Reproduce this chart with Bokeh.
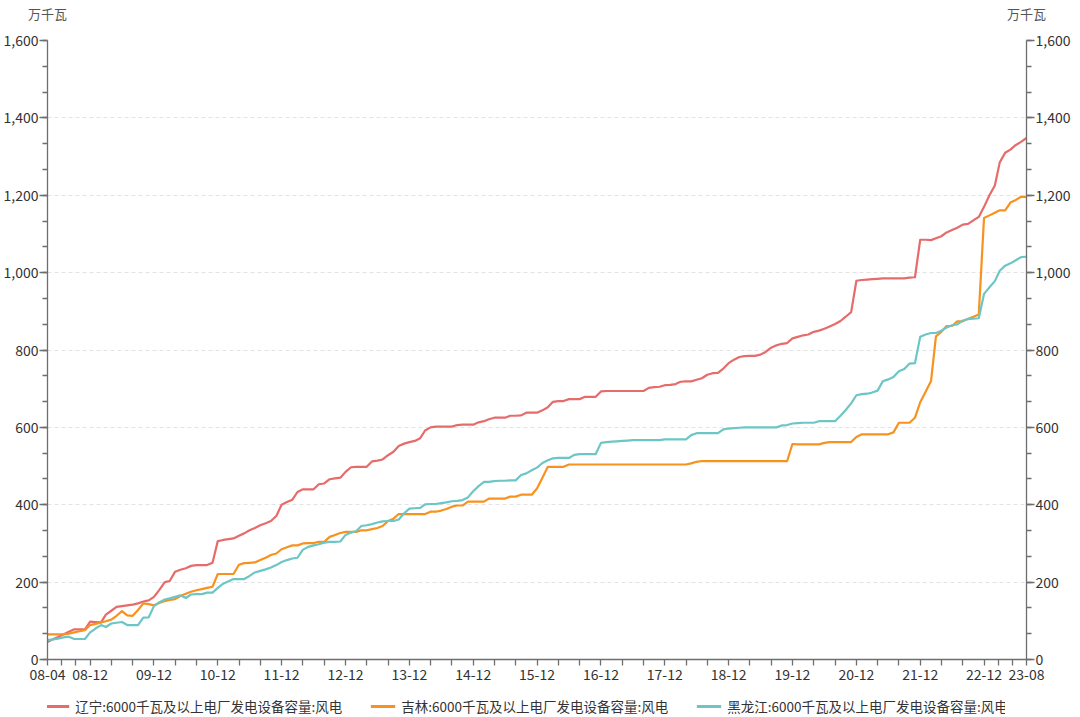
import pandas as pd
from bokeh.plotting import figure
from bokeh.layouts import column
from bokeh.models import (FixedTicker, SingleIntervalTicker, LinearAxis, DatetimeTickFormatter,
                          NumeralTickFormatter, Legend, LegendItem, Range1d, ColumnDataSource)
from bokeh.embed import file_html
from bokeh.resources import INLINE

# ---------------- data (monthly, 2008-04 .. 2023-08) ----------------
start_month = "2008-04"
n_months = 185

liaoning = [
    45, 52, 58, 65, 72, 78, 78, 78, 98,                                   # 2008 Apr-Dec
    97, 96, 116, 126, 136, 138, 140, 142, 145, 150, 153, 162,            # 2009
    180, 200, 203, 227, 232, 236, 242, 244, 244, 244, 250, 306,          # 2010
    309, 311, 313, 320, 326, 334, 340, 347, 352, 358, 371, 400,          # 2011
    407, 413, 433, 440, 440, 440, 453, 455, 466, 468, 470, 485,          # 2012
    497, 498, 498, 498, 512, 514, 517, 528, 537, 552, 558, 562,          # 2013
    565, 572, 592, 600, 602, 602, 602, 602, 606, 607, 607, 607,          # 2014
    613, 616, 621, 625, 625, 625, 630, 630, 631, 638, 638, 638,          # 2015
    644, 652, 666, 668, 668, 673, 673, 673, 679, 679, 679, 693,          # 2016
    694, 694, 694, 694, 694, 694, 694, 694, 702, 704, 705, 709,          # 2017
    710, 712, 718, 719, 719, 723, 727, 736, 740, 741, 752, 766,          # 2018
    775, 782, 784, 785, 785, 788, 795, 806, 812, 816, 818, 830,          # 2019
    834, 838, 840, 847, 850, 855, 861, 867, 875, 886, 898, 979,          # 2020
    981, 982, 983, 984, 985, 985, 985, 985, 985, 987, 988, 1085,         # 2021
    1085, 1084, 1089, 1094, 1104, 1110, 1116, 1124, 1126, 1135, 1144, 1170,  # 2022
    1200, 1225, 1285, 1310, 1318, 1330, 1338, 1348,                      # 2023 Jan-Aug
]

jilin = [
    65, 65, 65, 65, 67, 70, 73, 76, 89,
    92, 96, 99, 103, 113, 125, 114, 113, 128, 145, 143, 140,
    146, 151, 154, 156, 164, 170, 175, 179, 182, 185, 188, 221,
    221, 221, 221, 245, 249, 250, 251, 257, 263, 270, 274, 285,
    290, 295, 295, 300, 301, 301, 304, 304, 317, 322, 327, 330,
    330, 330, 334, 334, 337, 340, 345, 358, 364, 376, 376, 376,
    376, 376, 376, 382, 382, 385, 389, 395, 398, 398, 408, 408,
    408, 408, 416, 416, 416, 416, 421, 421, 426, 426, 426, 442,
    470, 498, 498, 498, 498, 504, 504, 504, 504, 504, 504, 504,
    504, 504, 504, 504, 504, 504, 504, 504, 504, 504, 504, 504,
    504, 504, 504, 504, 507, 511, 513, 513, 513, 513, 513, 513,
    513, 513, 513, 513, 513, 513, 513, 513, 513, 513, 513, 557,
    556, 556, 556, 556, 556, 560, 562, 562, 562, 562, 562, 575,
    582, 582, 582, 582, 582, 582, 587, 612, 612, 612, 625, 665,
    692, 720, 835, 847, 862, 862, 874, 874, 881, 886, 892, 1141,
    1148, 1155, 1161, 1161, 1181, 1188, 1196, 1196,
]

heilongjiang = [
    50, 52, 54, 57, 59, 53, 53, 53, 70,
    80, 89, 84, 93, 95, 97, 89, 89, 89, 108, 109, 138,
    148, 155, 158, 162, 166, 159, 168, 169, 169, 173, 173, 185,
    196, 202, 208, 208, 208, 216, 225, 229, 233, 238, 244, 252,
    257, 261, 263, 284, 291, 295, 298, 302, 304, 304, 305, 322,
    328, 332, 345, 347, 350, 354, 357, 358, 358, 362, 378, 390,
    391, 392, 401, 402, 402, 404, 406, 409, 410, 412, 419, 435,
    448, 459, 459, 461, 462, 462, 463, 463, 477, 481, 489, 496,
    508, 515, 520, 521, 521, 521, 529, 531, 531, 531, 531, 560,
    562, 563, 564, 565, 566, 567, 567, 567, 567, 567, 567, 569,
    569, 569, 569, 569, 580, 585, 585, 585, 585, 585, 595, 597,
    598, 599, 600, 600, 600, 600, 600, 600, 600, 605, 606, 610,
    611, 612, 612, 612, 616, 616, 616, 616, 630, 645, 662, 683,
    686, 687, 690, 695, 719, 724, 730, 745, 751, 765, 766, 834,
    840, 844, 844, 850, 858, 864, 866, 876, 880, 881, 882, 945,
    962, 978, 1005, 1018, 1024, 1032, 1040, 1041,
]

series_names = [
    "辽宁:6000千瓦及以上电厂发电设备容量:风电",
    "吉林:6000千瓦及以上电厂发电设备容量:风电",
    "黑龙江:6000千瓦及以上电厂发电设备容量:风电",
]
series_colors = ["#e66b6b", "#f8921f", "#6cc6c6"]
unit_label = "万千瓦"

x_tick_months = ["2008-04", "2008-12", "2009-12", "2010-12", "2011-12", "2012-12", "2013-12",
                 "2014-12", "2015-12", "2016-12", "2017-12", "2018-12", "2019-12", "2020-12",
                 "2021-12", "2022-12", "2023-08"]
y_max = 1600
y_step = 200

# ---------------- build ----------------
FONT = "Noto Sans CJK SC"
TEXT = "#333333"
AXIS = "#6e6e6e"
LINE_W = 2.2

dates = pd.date_range(start=start_month, periods=n_months, freq="MS")
src = ColumnDataSource(dict(date=dates, ln=liaoning, jl=jilin, hlj=heilongjiang))


def ms(s):
    return float(pd.Timestamp(s).value / 1e6)


x0, x1 = ms(dates[0]), ms(dates[-1])

p = figure(frame_width=979, frame_height=619, x_axis_type="datetime", output_backend="svg",
           toolbar_location=None, x_range=Range1d(x0, x1), y_range=Range1d(0, y_max),
           min_border_left=41, min_border_right=40, min_border_top=34, min_border_bottom=0)
p.outline_line_color = None
p.background_fill_color = "white"
p.border_fill_color = "white"

cols = ["ln", "jl", "hlj"]
for col, color in zip(cols, series_colors):
    p.line("date", col, source=src, line_color=color, line_width=LINE_W, line_join="round")


def style_axis(ax, size="14px"):
    ax.axis_label = None
    ax.axis_line_color = AXIS
    ax.major_tick_line_color = AXIS
    ax.minor_tick_line_color = AXIS
    ax.axis_line_width = 1.3
    ax.major_tick_line_width = 1.3
    ax.minor_tick_line_width = 1.3
    ax.major_label_text_font = FONT
    ax.major_label_text_font_size = size
    ax.major_label_text_color = TEXT


# x ticks
major = [ms(m) for m in x_tick_months]
minor = []
for a, b in zip(major[:-1], major[1:]):
    for k in (1, 2):
        minor.append(a + (b - a) * k / 3)
xax = p.xaxis[0]
xax.ticker = FixedTicker(ticks=major, minor_ticks=minor)
fmt = "%y-%m"
xax.formatter = DatetimeTickFormatter(years=fmt, months=fmt, days=fmt, hours=fmt, minutes=fmt,
                                      seconds=fmt, milliseconds=fmt, microseconds=fmt, hourmin=fmt,
                                      minsec=fmt)
xax.major_tick_out = 6
xax.major_tick_in = 0
xax.minor_tick_out = 6
xax.minor_tick_in = 0
xax.major_label_standoff = 3
style_axis(xax)

# y axes (left and right)
yax = p.yaxis[0]
yax.ticker = SingleIntervalTicker(interval=y_step, num_minor_ticks=3)
yax.formatter = NumeralTickFormatter(format="0,0")
yax.major_tick_out = 8
yax.major_tick_in = 0
yax.minor_tick_out = 5
yax.minor_tick_in = 0
yax.major_label_standoff = 1
style_axis(yax)

ry = LinearAxis(ticker=SingleIntervalTicker(interval=y_step, num_minor_ticks=3),
                formatter=NumeralTickFormatter(format="0,0"))
ry.major_tick_out = 8
ry.major_tick_in = 0
ry.minor_tick_out = 5
ry.minor_tick_in = 0
ry.major_label_standoff = 1
style_axis(ry)
p.add_layout(ry, "right")

# unit names above both y axes (an invisible axis carrying two labels)
ua = LinearAxis(ticker=FixedTicker(ticks=[x0, x1], minor_ticks=[]),
                major_label_overrides={x0: unit_label, x1: unit_label})
ua.axis_label = None
ua.axis_line_color = None
ua.major_tick_line_color = None
ua.minor_tick_line_color = None
ua.major_label_standoff = 12
ua.major_label_text_font = FONT
ua.major_label_text_font_size = "13px"
ua.major_label_text_color = "#555555"
p.add_layout(ua, "above")

p.xgrid.visible = False
p.ygrid.ticker = SingleIntervalTicker(interval=y_step)
p.ygrid.grid_line_color = "#e3e3e3"
p.ygrid.grid_line_dash = "4 3"
p.ygrid.grid_line_width = 1

# ---------------- legend strip below the chart ----------------
# same series drawn into a strip whose range excludes them, so only the legend shows
lg = figure(width=1052, height=48, output_backend="svg", toolbar_location=None,
            x_range=Range1d(0, 1), y_range=Range1d(0, 1), min_border=0)
lg.axis.visible = False
lg.grid.visible = False
lg.outline_line_color = None
lg_renderers = [lg.line("date", col, source=src, line_color=c, line_width=3)
                for col, c in zip(cols, series_colors)]

legend = Legend(items=[LegendItem(label=n, renderers=[r]) for n, r in zip(series_names, lg_renderers)],
                orientation="horizontal", location="center")
legend.label_text_font = FONT
legend.label_text_font_size = "13.5px"
legend.label_text_color = TEXT
legend.label_height = 16
legend.glyph_width = 25
legend.glyph_height = 14
legend.label_standoff = 6
legend.spacing = 28
legend.padding = 0
legend.margin = 0
legend.border_line_color = None
legend.background_fill_alpha = 0
lg.add_layout(legend, "center")

layout = column(p, lg, spacing=0)
open("out.html", "w").write(file_html(layout, INLINE))
